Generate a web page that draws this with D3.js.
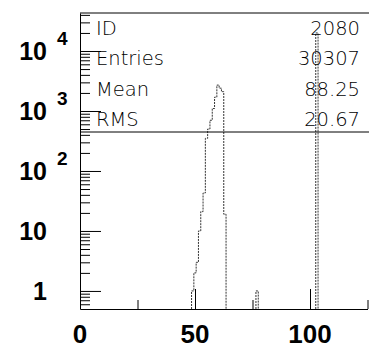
<!DOCTYPE html>
<html>
<head>
<meta charset="utf-8">
<script src="https://cdn.jsdelivr.net/npm/d3@7"></script>
<style>
  body { margin: 0; background: #fff; }
  svg { display: block; }
  .stat { font-family: "DejaVu Sans", sans-serif; font-weight: 200; font-size: 19.5px; fill: #000; }
  .lbl { font-family: "Liberation Sans", Arial, sans-serif; font-weight: bold; fill: #000; }
</style>
</head>
<body>
<div id="chart"></div>
<script>
// histogram bins (centre of a 1-wide bin) and their counts
const binCenters = [49, 50, 51, 52, 53, 54, 55, 56, 57, 58, 59, 60, 61, 62, 63, 77, 103];
const binCounts  = [1, 2, 3, 10, 21, 43, 350, 500, 700, 1100, 1700, 2700, 2400, 2100, 19, 1, 20000];

// statistics box
const statNames  = ["ID", "Entries", "Mean", "RMS"];
const statValues = ["2080", "30307", "88.25", "20.67"];

// axis ticks
const xTicks = [0, 50, 100];
const xMinorTicks = [25, 75, 125];
const yMajor = [1, 10, 100, 1000, 10000];
const yLabels = [
  {v: 1, base: "1", exp: ""},
  {v: 10, base: "10", exp: ""},
  {v: 100, base: "10", exp: "2"},
  {v: 1000, base: "10", exp: "3"},
  {v: 10000, base: "10", exp: "4"}
];

const W = 369, H = 349;
const mLeft = 80, mRight = 367.5, mTop = 13, mBottom = 309;

const svg = d3.select("#chart").append("svg")
  .attr("width", W)
  .attr("height", H);

const x = d3.scaleLinear().domain([0, 125]).range([mLeft, mRight]);
const y = d3.scaleLog().domain([0.5, 43000]).range([mBottom, mTop]);

// minor log ticks
let yMinor = [0.6, 0.7, 0.8, 0.9];
[1, 10, 100, 1000].forEach(d => {
  for (let k = 2; k <= 9; k++) yMinor.push(k * d);
});
yMinor.push(20000, 30000, 40000);

// histogram outline, one path per run of neighbouring bins
let bins = binCenters.map((c, i) => ({c: c, n: binCounts[i]}));
let groups = [];
bins.forEach(b => {
  let g = groups[groups.length - 1];
  if (g && b.c - g[g.length - 1].c === 1) g.push(b);
  else groups.push([b]);
});

groups.forEach(g => {
  let p = d3.path();
  p.moveTo(x(g[0].c - 0.5), y(0.5));
  g.forEach(b => {
    p.lineTo(x(b.c - 0.5), y(b.n));
    p.lineTo(x(b.c + 0.5), y(b.n));
  });
  p.lineTo(x(g[g.length - 1].c + 0.5), y(0.5));
  svg.append("path")
    .attr("d", p.toString())
    .attr("fill", "none")
    .attr("stroke", "#333")
    .attr("stroke-width", 1)
    .attr("stroke-dasharray", "2,1");
});

// y axis, ticks pointing inside
svg.append("g")
  .attr("transform", `translate(${mLeft},0)`)
  .call(d3.axisRight(y).tickValues(yMinor).tickSize(10).tickSizeOuter(0).tickFormat(""))
  .call(g => g.selectAll("line").attr("stroke", "#000"));

svg.append("g")
  .attr("transform", `translate(${mLeft},0)`)
  .call(d3.axisRight(y).tickValues(yMajor).tickSize(21).tickSizeOuter(0).tickFormat(""))
  .call(g => g.select(".domain").remove());

// x axis, ticks pointing up
svg.append("g")
  .attr("transform", `translate(0,${mBottom})`)
  .call(d3.axisTop(x).tickValues(xMinorTicks).tickSize(9).tickSizeOuter(0).tickFormat(""));

svg.append("g")
  .attr("transform", `translate(0,${mBottom})`)
  .call(d3.axisTop(x).tickValues(xTicks).tickSize(20).tickSizeOuter(0).tickFormat(""))
  .call(g => g.select(".domain").remove());

// x labels
svg.selectAll(".xl")
  .data(xTicks)
  .enter().append("text")
  .attr("class", "lbl")
  .attr("x", d => x(d))
  .attr("y", 343)
  .attr("text-anchor", "middle")
  .style("font-size", "26px")
  .text(d => d);

// y labels
yLabels.forEach(d => {
  svg.append("text")
    .attr("class", "lbl")
    .attr("x", 47)
    .attr("y", y(d.v) + 9)
    .attr("text-anchor", "end")
    .style("font-size", "25px")
    .text(d.base);
  if (d.exp) {
    svg.append("text")
      .attr("class", "lbl")
      .attr("x", 57)
      .attr("y", y(d.v) - 6)
      .style("font-size", "19px")
      .text(d.exp);
  }
});

// frame top and stats box
svg.append("line")
  .attr("x1", mLeft).attr("x2", 369)
  .attr("y1", mTop).attr("y2", mTop)
  .attr("stroke", "#000");
svg.append("line")
  .attr("x1", mLeft).attr("x2", 369)
  .attr("y1", 132).attr("y2", 132)
  .attr("stroke", "#000");

statNames.forEach((s, i) => {
  svg.append("text")
    .attr("class", "stat")
    .attr("x", 96)
    .attr("y", 35 + i * 30.4)
    .text(s);
  svg.append("text")
    .attr("class", "stat")
    .attr("x", 360)
    .attr("y", 35 + i * 30.4)
    .attr("text-anchor", "end")
    .text(statValues[i]);
});
</script>
</body>
</html>
